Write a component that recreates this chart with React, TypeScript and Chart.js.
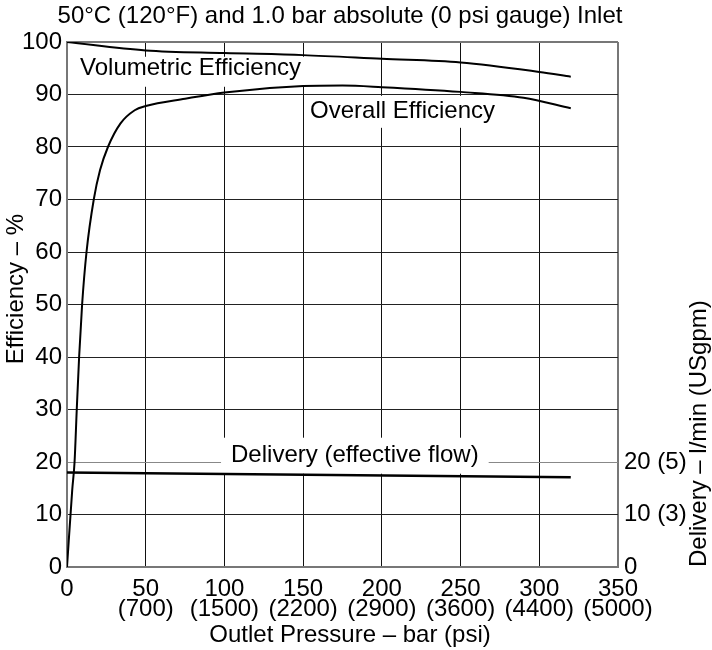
import { useEffect, useRef } from 'react';
import { Chart, registerables } from 'chart.js';

Chart.register(...registerables);

const titleText = '50°C (120°F) and 1.0 bar absolute (0 psi gauge) Inlet';
const xTitle = 'Outlet Pressure – bar (psi)';
const yTitle = 'Efficiency – %';
const y1Title = 'Delivery – l/min (USgpm)';

const xBarTicks = [0, 50, 100, 150, 200, 250, 300, 350];
const xPsiTicks = ['', '(700)', '(1500)', '(2200)', '(2900)', '(3600)', '(4400)', '(5000)'];
const rightTickValues = [0, 10, 20];
const rightTickLabels = ['0', '10 (3)', '20 (5)'];

const volPressure = [0, 50, 100, 150, 200, 250, 300, 320];
const volEff = [100, 98.4, 97.9, 97.5, 96.8, 96.1, 94.3, 93.4];

const overallPressure = [0, 3.3, 4.8, 6.2, 7.7, 9.6, 12.4, 17, 21, 26, 34, 43, 50, 75, 100, 150, 175, 200, 250, 290, 320];
const overallEff = [0, 14.6, 20, 30, 40, 50, 60, 70, 75.6, 80, 84.5, 87, 87.8, 89.2, 90.4, 91.6, 91.7, 91.4, 90.5, 89.4, 87.4];

const deliveryPressure = [0, 320];
const deliveryFlow = [18, 17.1];

const curveLabels = ['Volumetric Efficiency', 'Overall Efficiency', 'Delivery (effective flow)'];
const curveLabelX = [8.3, 154.4, 104.2];
const curveLabelY = [94.9, 86.7, 21.2];

const FONT_FAMILY = 'Liberation Sans';
const FONT_SIZE = 24;
const FONT = `${FONT_SIZE}px "${FONT_FAMILY}"`;
const labelBoxPad = [
  { l: 4, r: 4, t: 12, b: 18 },
  { l: 5, r: 4, t: 16, b: 16 },
  { l: 10, r: 10, t: 18, b: 18 },
];

const zip = (xs: number[], ys: number[]) => xs.map((x, i) => ({ x, y: ys[i] }));

const textPlugin = {
  id: 'chartTexts',
  beforeDatasetsDraw(chart: any) {
    const { ctx, scales } = chart;
    const x = scales.x;
    const y = scales.y;
    ctx.save();
    ctx.font = FONT;
    ctx.textBaseline = 'middle';
    ctx.textAlign = 'left';
    curveLabels.forEach((t, i) => {
      const px = x.getPixelForValue(curveLabelX[i]);
      const py = y.getPixelForValue(curveLabelY[i]);
      const w = ctx.measureText(t).width;
      const p = labelBoxPad[i];
      ctx.fillStyle = '#fff';
      ctx.fillRect(px - p.l, py - p.t, w + p.l + p.r, p.t + p.b);
      ctx.fillStyle = '#000';
      ctx.fillText(t, px, py);
    });
    ctx.restore();
  },
  afterDraw(chart: any) {
    const { ctx, chartArea: a } = chart;
    ctx.save();
    ctx.font = FONT;
    ctx.fillStyle = '#000';
    ctx.textBaseline = 'middle';
    ctx.textAlign = 'center';
    ctx.fillText(titleText, a.left + 273, a.top - 26);
    ctx.fillText(xTitle, a.left + 283, a.bottom + 68);
    ctx.save();
    ctx.translate(a.left - 51, a.top + 247);
    ctx.rotate(-Math.PI / 2);
    ctx.textAlign = 'center';
    ctx.fillText(yTitle, 0, 0);
    ctx.restore();
    ctx.save();
    ctx.translate(a.right + 81, a.bottom);
    ctx.rotate(-Math.PI / 2);
    ctx.textAlign = 'left';
    ctx.fillText(y1Title, 0, 0);
    ctx.restore();
    ctx.restore();
  },
};

export default function App() {
  const ref = useRef<HTMLCanvasElement | null>(null);
  useEffect(() => {
    if (!ref.current) return;
    const lineStyle = {
      borderColor: '#000',
      pointRadius: 0,
      fill: false,
      cubicInterpolationMode: 'monotone' as const,
    };
    const chart = new Chart(ref.current, {
      type: 'line',
      data: {
        datasets: [
          { ...lineStyle, label: 'Volumetric Efficiency', data: zip(volPressure, volEff), borderWidth: 2 },
          { ...lineStyle, label: 'Overall Efficiency', data: zip(overallPressure, overallEff), borderWidth: 2 },
          { ...lineStyle, label: 'Delivery', data: zip(deliveryPressure, deliveryFlow), borderWidth: 2.5, cubicInterpolationMode: 'default', tension: 0 },
        ],
      },
      options: {
        animation: false,
        responsive: false,
        devicePixelRatio: 1,
        parsing: false as any,
        layout: { padding: { top: 42, left: 0, right: 0, bottom: 0 } },
        plugins: {
          legend: { display: false },
          title: { display: false },
          tooltip: { enabled: false },
        },
        font: { family: FONT_FAMILY, size: FONT_SIZE } as any,
        scales: {
          x: {
            type: 'linear',
            min: 0,
            max: 350,
            afterFit: (s: any) => { s.height = 83; },
            afterBuildTicks: (s: any) => { s.ticks = xBarTicks.map((v) => ({ value: v })); },
            ticks: {
              color: '#000',
              padding: 12,
              font: { family: FONT_FAMILY, size: FONT_SIZE, lineHeight: 20 / 24 },
              maxRotation: 0,
              autoSkip: false,
              callback: (v: any) => {
                const i = xBarTicks.indexOf(Number(v));
                if (i < 0) return '';
                return xPsiTicks[i] ? [String(xBarTicks[i]), xPsiTicks[i]] : String(xBarTicks[i]);
              },
            },
            grid: {
              drawTicks: false,
              color: (c: any) => (c.tick && c.tick.value === 350 ? '#777' : '#111'),
              lineWidth: (c: any) => (c.tick && c.tick.value === 350 ? 2 : 1),
            },
            border: { color: '#777', width: 2 },
          },
          y: {
            type: 'linear',
            position: 'left',
            min: 0,
            max: 100,
            afterFit: (s: any) => { s.width = 67; },
            ticks: {
              stepSize: 10,
              color: '#000',
              padding: 5,
              font: { family: FONT_FAMILY, size: FONT_SIZE },
            },
            grid: {
              drawTicks: false,
              color: (c: any) => {
                const v = c.tick ? c.tick.value : -1;
                if (v === 100) return '#777';
                if (v === 20) return '#888';
                return '#222';
              },
              lineWidth: (c: any) => (c.tick && c.tick.value === 100 ? 2 : 1),
            },
            border: { color: '#777', width: 2 },
          },
          y1: {
            type: 'linear',
            position: 'right',
            min: 0,
            max: 100,
            afterFit: (s: any) => { s.width = 94; },
            afterBuildTicks: (s: any) => { s.ticks = rightTickValues.map((v) => ({ value: v })); },
            ticks: {
              color: '#000',
              padding: 6,
              font: { family: FONT_FAMILY, size: FONT_SIZE },
              callback: (v: any) => {
                const i = rightTickValues.indexOf(Number(v));
                return i < 0 ? '' : rightTickLabels[i];
              },
            },
            grid: { display: false, drawTicks: false },
            border: { display: false },
          },
        },
      },
      plugins: [textPlugin],
    } as any);
    return () => chart.destroy();
  }, []);
  return (
    <div style={{ position: 'fixed', left: 0, top: 0, width: 712, height: 650, background: '#fff' }}>
      <canvas ref={ref} width={712} height={650} style={{ width: 712, height: 650, display: 'block' }} />
    </div>
  );
}
